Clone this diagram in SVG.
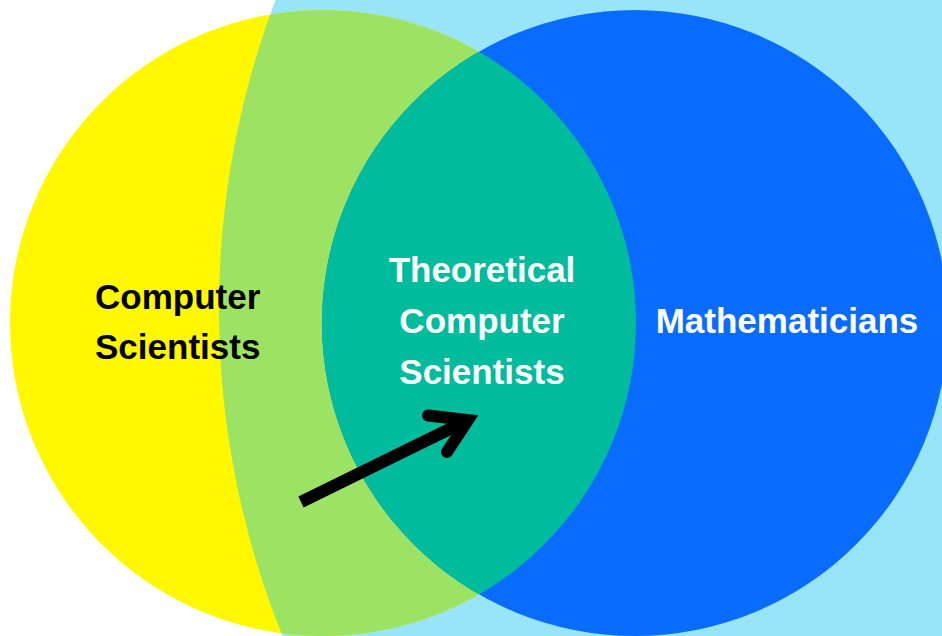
<svg xmlns="http://www.w3.org/2000/svg" width="942" height="636" viewBox="0 0 942 636">
  <style>
    .lbl { font-family: "Liberation Sans", Arial, sans-serif; font-weight: bold; font-size: 35px; }
    .dark { fill: #000000; }
    .light { fill: #ffffff; }
    .shaft { fill: none; stroke: #000000; stroke-width: 12; stroke-linecap: butt; }
    .head { fill: none; stroke: #000000; stroke-width: 12; stroke-linecap: round; stroke-linejoin: miter; }
  </style>
  <defs>
    <clipPath id="clip-lightblue">
      <circle cx="1092" cy="309" r="873"/>
    </clipPath>
    <clipPath id="clip-blue">
      <circle cx="635" cy="323" r="313"/>
    </clipPath>
  </defs>
  <rect x="0" y="0" width="942" height="636" fill="#ffffff"/>
  <g id="outer-set">
    <circle cx="1092" cy="309" r="873" fill="#98E5FA"/>
  </g>
  <g id="computer-scientists">
    <circle cx="323" cy="323" r="313" fill="#FFF800"/>
    <circle cx="323" cy="323" r="313" fill="#9CE263" clip-path="url(#clip-lightblue)"/>
    <text class="lbl dark" x="95" y="309">Computer</text>
    <text class="lbl dark" x="95" y="359">Scientists</text>
  </g>
  <g id="mathematicians">
    <circle cx="635" cy="323" r="313" fill="#0A6CFF"/>
    <text class="lbl light" x="787" y="333" text-anchor="middle">Mathematicians</text>
  </g>
  <g id="theoretical-computer-scientists">
    <circle cx="323" cy="323" r="313" fill="#00BC9C" clip-path="url(#clip-blue)"/>
    <text class="lbl light" x="482" y="282" text-anchor="middle">Theoretical</text>
    <text class="lbl light" x="482" y="333" text-anchor="middle">Computer</text>
    <text class="lbl light" x="482" y="384" text-anchor="middle">Scientists</text>
  </g>
  <g id="connectors">
    <path class="shaft" d="M301,502 L468,420"/>
    <path class="head" d="M428,415.5 L468,420 L447,452"/>
  </g>
</svg>
